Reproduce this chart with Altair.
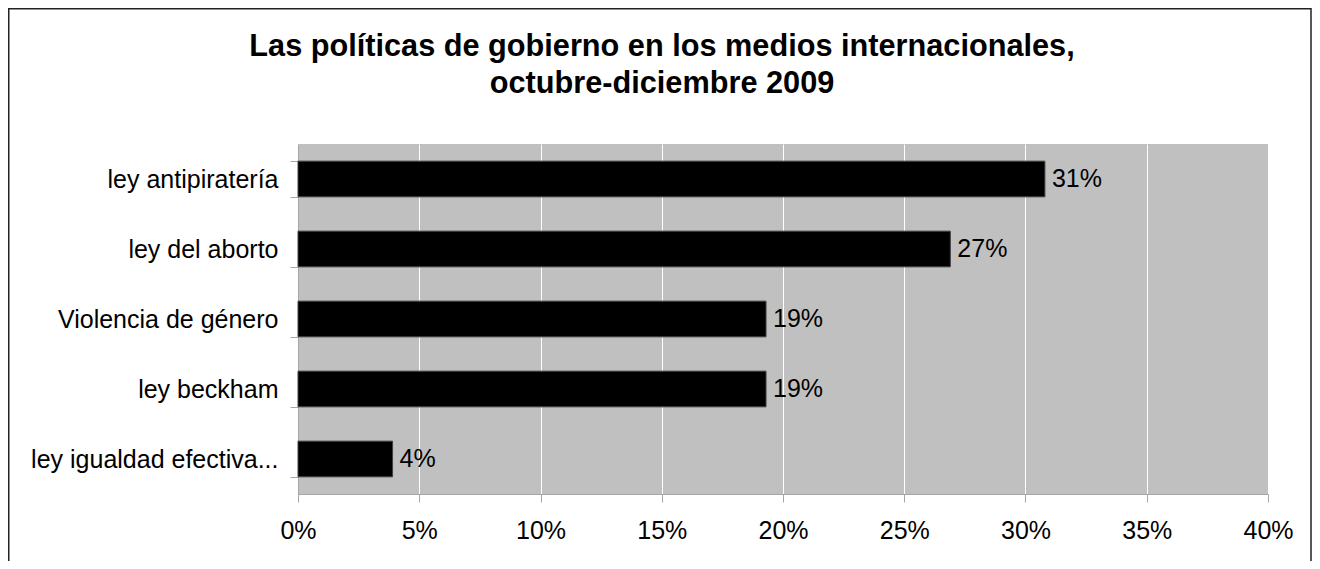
import altair as alt
import pandas as pd

categories = ["ley antipiratería", "ley del aborto", "Violencia de género", "ley beckham", "ley igualdad efectiva..."]
values = [0.308, 0.269, 0.193, 0.193, 0.039]
tick_values = [0, 0.05, 0.10, 0.15, 0.20, 0.25, 0.30, 0.35, 0.40]
title_lines = ["Las políticas de gobierno en los medios internacionales,", "octubre-diciembre 2009"]

df = pd.DataFrame({"categoria": categories, "valor": values})
title_df = pd.DataFrame({"linea": title_lines, "n": [0, 1]})

FONT = "Liberation Sans"
W, H = 970, 350
PAD_L, PAD_T, PAD_R, PAD_B = 290, 136, 44, 67

y_enc = alt.Y(
    "categoria:N",
    sort=categories,
    title=None,
    scale=alt.Scale(paddingInner=0.49, paddingOuter=0.245),
    axis=alt.Axis(
        labelFontSize=25, labelFont=FONT, labelColor="#000000",
        labelPadding=12, tickSize=8, tickColor="#A6A6A6",
        domainColor="#A6A6A6", tickBand="extent", grid=False,
        labelLimit=400,
    ),
)
x_enc = alt.X(
    "valor:Q",
    title=None,
    scale=alt.Scale(domain=[0, 0.4], nice=False),
    axis=alt.Axis(
        values=tick_values, format=".0%", labelFontSize=25, labelFont=FONT,
        labelColor="#000000", labelPadding=16, tickSize=8, tickColor="#A6A6A6",
        domainColor="#A6A6A6", grid=True, gridColor="#FFFFFF", gridWidth=1,
        labelFlush=False,
    ),
)

bars = alt.Chart(df).mark_bar(color="#000000", stroke="#404040", strokeWidth=1).encode(
    x=x_enc, y=y_enc
)
labels = alt.Chart(df).mark_text(
    align="left", baseline="middle", dx=7, fontSize=25, font=FONT, color="#000000"
).encode(
    x="valor:Q", y=alt.Y("categoria:N", sort=categories), text=alt.Text("valor:Q", format=".0%")
)
title1 = alt.Chart(title_df).transform_filter("datum.n == 0").mark_text(
    align="center", baseline="alphabetic", fontSize=30.7, font=FONT, fontWeight="bold", color="#000000"
).encode(text="linea:N", x=alt.value(364), y=alt.value(-88))
title2 = alt.Chart(title_df).transform_filter("datum.n == 1").mark_text(
    align="center", baseline="alphabetic", fontSize=30.7, font=FONT, fontWeight="bold", color="#000000"
).encode(text="linea:N", x=alt.value(364), y=alt.value(-51))
frame = alt.Chart(alt.Data(values=[{"a": 1}])).mark_rect(
    filled=False, stroke="#222222", strokeWidth=1.5
).encode(
    x=alt.value(-PAD_L + 0.75), x2=alt.value(W + PAD_R - 1),
    y=alt.value(-PAD_T + 0.75), y2=alt.value(H + PAD_B + 20),
)

chart = alt.layer(bars, labels, title1, title2, frame).properties(
    width=W, height=H,
    padding={"left": PAD_L, "top": PAD_T, "right": PAD_R, "bottom": PAD_B},
    autosize=alt.AutoSizeParams(type="none"),
).configure_view(fill="#C0C0C0", stroke=None)

chart.save("out.html", embed_options={"renderer": "svg", "actions": False})
